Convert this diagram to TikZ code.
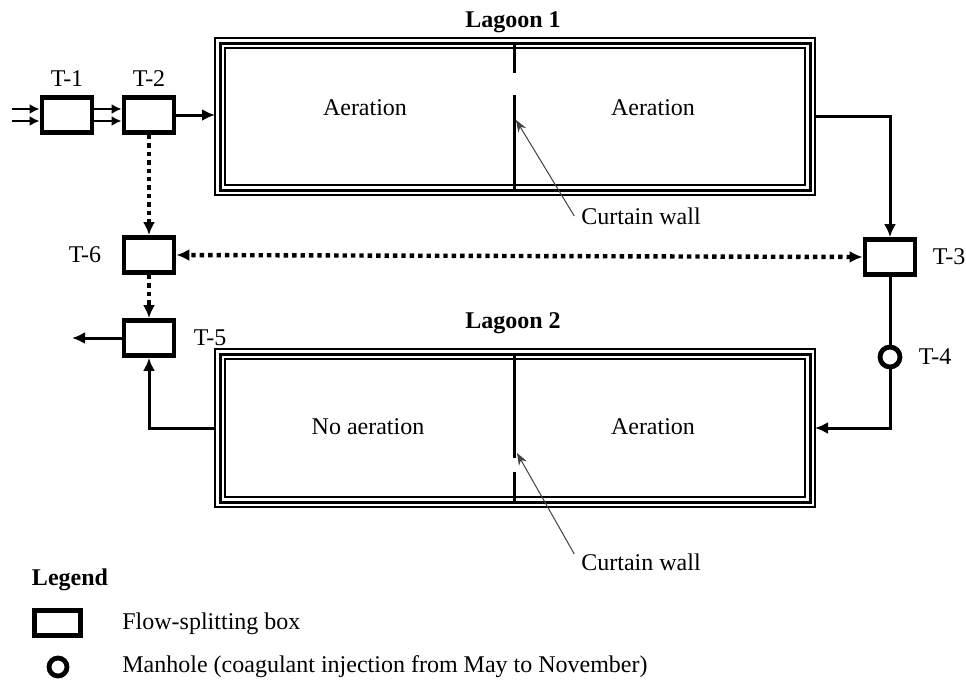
\documentclass[tikz,border=0pt]{standalone}
\usepackage{fontspec}
\setmainfont{Liberation Serif}
\usepackage{tikz}
\usetikzlibrary{arrows.meta, positioning, calc}

\begin{document}
\begin{tikzpicture}[x=0.5pt, y=-0.5pt,
        font=\fontsize{12}{14}\selectfont,
        box/.style={draw, line width=2.4pt, fill=white, minimum width=25pt, minimum height=17.5pt, inner sep=0pt},
        hole/.style={draw, circle, line width=2.4pt, fill=white, minimum size=10pt, inner sep=0pt},
        lagoon/.style={draw, line width=0.75pt, outer sep=0pt, inner sep=0pt, minimum width=300pt},
        wall/.style={line width=1.5pt},
        pipe/.style={line width=1.5pt, -{Latex[length=6.5pt,width=6pt]}},
        twin/.style={line width=1.2pt, -{Latex[length=5pt,width=5pt]}},
        dots/.style={line width=2.2pt, dash pattern=on 2.2pt off 2pt, -{Latex[length=6.5pt,width=6pt]}},
        pointer/.style={line width=0.5pt, black!75, -{Stealth[length=6pt,width=4.5pt]}},
        tag/.style={inner sep=0pt}]
        \useasboundingbox (0,0) rectangle (966,681);

        \node[lagoon, minimum height=78.5pt] (lag1) at (515,116.5) {};
        \draw[wall] ($(lag1.north west)+(5,5)$) rectangle ($(lag1.south east)+(-5,-5)$);
        \draw[line width=0.75pt] ($(lag1.north west)+(10,10)$) rectangle ($(lag1.south east)+(-10,-10)$);
        \node (lag1name) at (513,22) {\textbf{Lagoon 1}};
        \draw[wall] (514,43) -- (514,73);
        \draw[wall] (514,95) -- (514,190);
        \node (aer1) at (365,108) {Aeration};
        \node (aer2) at (653,108) {Aeration};

        \node[lagoon, minimum height=79pt] (lag2) at (515,428) {};
        \draw[wall] ($(lag2.north west)+(5,5)$) rectangle ($(lag2.south east)+(-5,-5)$);
        \draw[line width=0.75pt] ($(lag2.north west)+(10,10)$) rectangle ($(lag2.south east)+(-10,-10)$);
        \node (lag2name) at (513,323) {\textbf{Lagoon 2}};
        \draw[wall] (514,354) -- (514,458);
        \draw[wall] (514,472) -- (514,502);
        \node (noaer) at (368,427) {No aeration};
        \node (aer3) at (653,427) {Aeration};

        \node (cw1) at (641,216) {Curtain wall};
        \coordinate (w1) at (516,120);
        \draw[pointer] (cw1.west) -- (w1);
        \node (cw2) at (641,562) {Curtain wall};
        \coordinate (w2) at (517,453);
        \draw[pointer] ([yshift=4pt]cw2.west) -- (w2);

        \node[box, label={[tag, label distance=4pt]above:T-1}] (t1) at (67,115) {};
        \node[box, label={[tag, label distance=4pt]above:T-2}] (t2) at (149,115) {};
        \node[box, label={[tag, label distance=10pt]left:T-6}] (t6) at (149,255) {};
        \node[box, label={[tag, label distance=8.5pt]right:T-5}] (t5) at (149,338) {};
        \node[box, label={[tag, label distance=7.5pt]right:T-3}] (t3) at (890,257) {};
        \node[hole, label={[tag, label distance=8pt]right:T-4}] (t4) at (890,357) {};

        \coordinate (in1) at (12,109);
        \coordinate (in2) at (12,121);
        \draw[twin] (in1) -- (in1 -| t1.west);
        \draw[twin] (in2) -- (in2 -| t1.west);
        \draw[twin] ([yshift=3pt]t1.east) -- ([yshift=3pt]t2.west);
        \draw[twin] ([yshift=-3pt]t1.east) -- ([yshift=-3pt]t2.west);
        \draw[pipe] (t2.east) -- (t2.east -| lag1.west);
        \draw[pipe] (lag1.east) -| (t3.north);
        \draw[wall] (t3.south) -- (t4.north);
        \draw[pipe] (t4.south) |- (lag2.east);
        \draw[pipe] (lag2.west) -| (t5.south);
        \coordinate (out) at (72,338);
        \draw[pipe] (t5.west) -- (out);
        \draw[dots] (t2.south) -- (t6.north);
        \draw[dots] (t6.south) -- (t5.north);
        \draw[dots, {Latex[length=6.5pt,width=6pt]}-{Latex[length=6.5pt,width=6pt]}] (t3.west) -- (t6.east);

        \node (legend) at (70,580) {\textbf{Legend}};
        \node[box, minimum width=23pt, minimum height=12.5pt] (key1) at (57.5,623) {};
        \node[tag, anchor=west] (key1text) at (122,624) {Flow-splitting box};
        \node[hole, minimum size=9pt] (key2) at (58,667) {};
        \node[tag, anchor=west] (key2text) at (122,667) {Manhole (coagulant injection from May to November)};
\end{tikzpicture}
\end{document}
